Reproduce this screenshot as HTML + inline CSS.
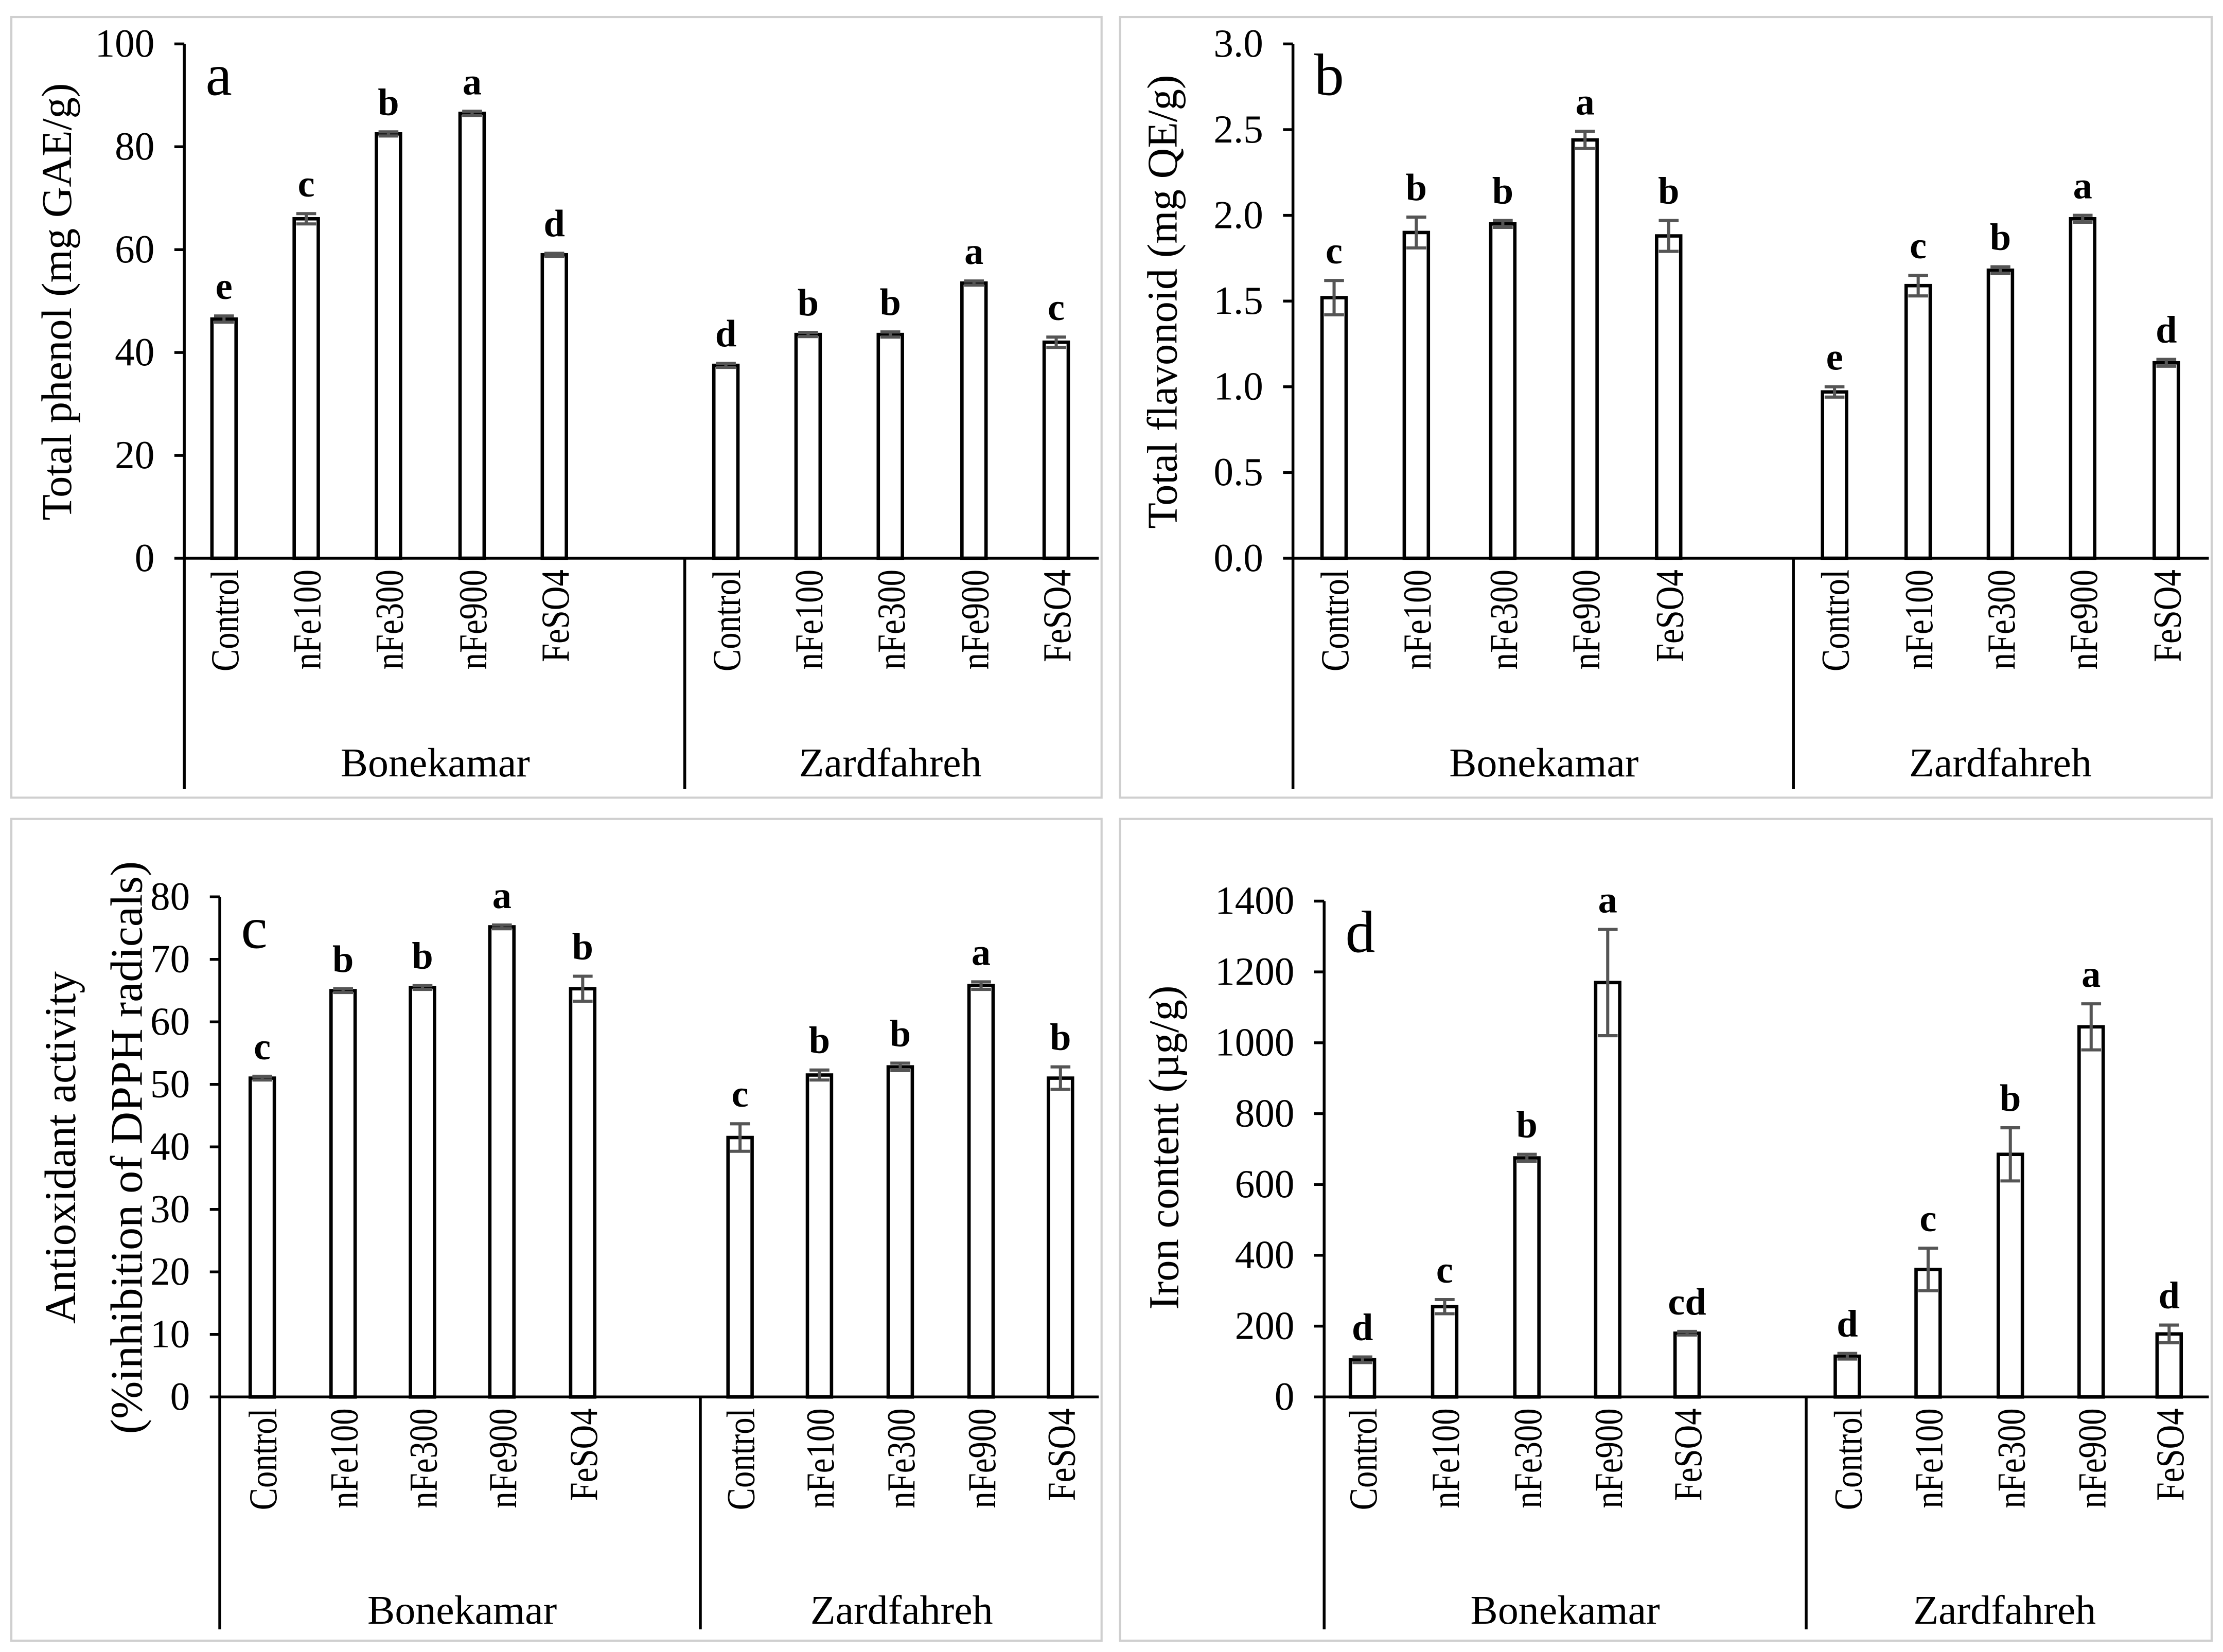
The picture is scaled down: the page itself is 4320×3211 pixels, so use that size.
<!DOCTYPE html>
<html><head><meta charset="utf-8"><style>
html,body{margin:0;padding:0;background:#fff;}
svg{display:block;}
text{font-family:"Liberation Serif",serif;fill:#000;}
</style></head><body>
<svg id="fig" width="4320" height="3211" viewBox="0 0 1568 1166" preserveAspectRatio="none" xmlns="http://www.w3.org/2000/svg"></svg>
<script>
const categories = ["Control","nFe100","nFe300","nFe900","FeSO4","Control","nFe100","nFe300","nFe900","FeSO4"];
const groups = ["Bonekamar","Zardfahreh"];
const phenolValues = [46.5,66,82.5,86.5,59,37.5,43.5,43.5,53.5,42];
const phenolErrors = [0.6,1,0.4,0.4,0.3,0.4,0.4,0.5,0.4,1];
const phenolLetters = ["e","c","b","a","d","d","b","b","a","c"];
const phenolTicks = ["0","20","40","60","80","100"];
const flavValues = [1.52,1.9,1.95,2.44,1.88,0.97,1.59,1.68,1.98,1.14];
const flavErrors = [0.1,0.09,0.02,0.05,0.09,0.03,0.06,0.02,0.02,0.02];
const flavLetters = ["c","b","b","a","b","e","c","b","a","d"];
const flavTicks = ["0.0","0.5","1.0","1.5","2.0","2.5","3.0"];
const antiValues = [51,65,65.5,75.2,65.3,41.5,51.5,52.8,65.8,51];
const antiErrors = [0.3,0.3,0.3,0.3,2,2.2,0.8,0.6,0.6,1.8];
const antiLetters = ["c","b","b","a","b","c","b","b","a","b"];
const antiTicks = ["0","10","20","30","40","50","60","70","80"];
const ironValues = [105,255,675,1170,180,115,360,685,1045,178];
const ironErrors = [8,20,10,150,5,8,60,75,65,25];
const ironLetters = ["d","c","b","a","cd","d","c","b","a","d"];
const ironTicks = ["0","200","400","600","800","1000","1200","1400"];

const NS="http://www.w3.org/2000/svg";
const svg=document.getElementById('fig');
function mk(tag,attrs,parent){const e=document.createElementNS(NS,tag);for(const k in attrs)e.setAttribute(k,attrs[k]);(parent||svg).appendChild(e);return e;}

function panel(p){
  const g=mk('g',{});
  
  
  const border=mk('rect',{x:p.bx,y:p.by,width:p.bw,height:p.bh,fill:'none',stroke:'#cfcfcf','stroke-width':1.5},g);
  
  
  const maxV=Number(p.ticks[p.ticks.length-1]);
  const y=v=>p.y0-(v/maxV)*(p.y0-p.yTop);
  mk('line',{x1:p.ax,y1:p.yTop,x2:p.ax,y2:p.axBottom,stroke:'#000','stroke-width':2},g);
  mk('line',{x1:p.ax,y1:p.y0,x2:p.axRight,y2:p.y0,stroke:'#000','stroke-width':2},g);
  mk('line',{x1:p.sep,y1:p.y0,x2:p.sep,y2:p.axBottom,stroke:'#000','stroke-width':2},g);
  p.ticks.forEach((t,i)=>{
    const ty=y(Number(t));
    mk('line',{x1:p.ax-7,y1:ty,x2:p.ax,y2:ty,stroke:'#000','stroke-width':2},g);
    const tx=mk('text',{x:p.ax-21,y:ty+9,'text-anchor':'end','font-size':28},g);
    tx.textContent=t;
    
    
  });
  const xs=p.gx;
  p.values.forEach((v,i)=>{
    const cx=xs[i];
    const r=mk('rect',{x:cx-8.5,y:y(v),width:17,height:p.y0-y(v),fill:'#fff',stroke:'#000','stroke-width':2.4},g);
    
    
    const e=p.errors[i];
    const eg=mk('g',{stroke:'#555','stroke-width':2.2},g);
    
    
    mk('line',{x1:cx,y1:y(v+e),x2:cx,y2:y(v-e)},eg);
    mk('line',{x1:cx-7,y1:y(v+e),x2:cx+7,y2:y(v+e)},eg);
    mk('line',{x1:cx-7,y1:y(v-e),x2:cx+7,y2:y(v-e)},eg);
    const lt=mk('text',{x:cx,y:y(v+e)-12,'text-anchor':'middle','font-size':27,'font-weight':'bold'},g);
    lt.textContent=p.letters[i];
    
    
    const ct=mk('text',{x:0,y:0,'text-anchor':'end','font-size':28,transform:`translate(${cx+10},${p.y0+8}) rotate(-90) scale(0.84,1)`},g);
    ct.textContent=categories[i];
    
    
  });
  p.groupX.forEach((gxv,i)=>{
    const t=mk('text',{x:gxv,y:p.groupY,'text-anchor':'middle','font-size':29},g);
    t.textContent=groups[i];
    
    
  });
  const pl=mk('text',{x:p.ax+15,y:p.yTop+36,'font-size':42},g);
  pl.textContent=p.id;
  
  
  p.ylabel.forEach((line,i)=>{
    const t=mk('text',{x:0,y:0,'text-anchor':'middle','font-size':p.ylfs[i],transform:`translate(${p.ylx[i]},${p.yly}) rotate(-90)`},g);
    t.textContent=line;
    
    
  });
}

panel({id:'a',bx:8,by:12,bw:769,bh:551,ax:130,yTop:31,y0:394,axBottom:557,axRight:775,sep:483,
  gx:[158,216,274,333,391,512,570,628,687,745],ticks:phenolTicks,values:phenolValues,errors:phenolErrors,letters:phenolLetters,
  groupX:[307,628],groupY:548,ylabel:["Total phenol (mg GAE/g)"],ylfs:[30],ylx:[50],yly:213});
panel({id:'b',bx:790,by:12,bw:770,bh:551,ax:912,yTop:31,y0:394,axBottom:557,axRight:1558,sep:1265,
  gx:[941,999,1060,1118,1177,1294,1353,1411,1469,1528],ticks:flavTicks,values:flavValues,errors:flavErrors,letters:flavLetters,
  groupX:[1089,1411],groupY:548,ylabel:["Total flavonoid (mg QE/g)"],ylfs:[30],ylx:[830],yly:213});
panel({id:'c',bx:8,by:578,bw:769,bh:580,ax:155,yTop:633,y0:986,axBottom:1150,axRight:775,sep:494,
  gx:[185,242,298,354,411,522,578,635,692,748],ticks:antiTicks,values:antiValues,errors:antiErrors,letters:antiLetters,
  groupX:[326,636],groupY:1146,ylabel:["Antioxidant activity","(%inhibition of DPPH radicals)"],ylfs:[31,32],ylx:[53,100],yly:810});
panel({id:'d',bx:790,by:578,bw:770,bh:580,ax:934,yTop:636,y0:986,axBottom:1150,axRight:1558,sep:1274,
  gx:[961,1019,1077,1134,1190,1303,1360,1418,1475,1530],ticks:ironTicks,values:ironValues,errors:ironErrors,letters:ironLetters,
  groupX:[1104,1414],groupY:1146,ylabel:["Iron content (µg/g)"],ylfs:[30],ylx:[831],yly:810});
</script>
</body></html>
